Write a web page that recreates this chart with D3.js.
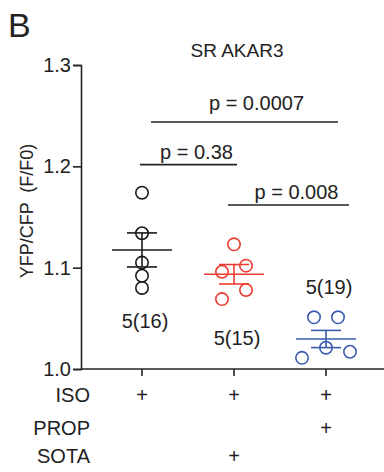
<!DOCTYPE html>
<html>
<head>
<meta charset="utf-8">
<script src="https://cdn.jsdelivr.net/npm/d3@7"></script>
<style>
  body { margin: 0; background: #fff; }
  svg text { font-family: Arial, "Liberation Sans", sans-serif; fill: #222; white-space: pre; }
</style>
</head>
<body>
<div id="chart"></div>
<script>
// data
const groups = ["g1", "g2", "g3"];
const colors = ["#1a1a1a", "#ee3b2f", "#3b5bb0"];
const points = [
  [1.174, 1.134, 1.105, 1.092, 1.080],
  [1.123, 1.102, 1.096, 1.078, 1.069],
  [1.051, 1.051, 1.021, 1.017, 1.011]
];
const jitter = [
  [0, 0, 0, 0, 0],
  [0, 1, -1, 1, -1],
  [-1, 1, 0, 2, -2]
];
const means = [1.1175, 1.0935, 1.0296];
const sems = [0.0168, 0.0096, 0.0085];
const nLabels = ["5(16)", "5(15)", "5(19)"];
const nLabelY = [1.047, 1.031, 1.081];
const yTicks = [1.0, 1.1, 1.2, 1.3];
const treatRows = ["ISO", "PROP", "SOTA"];
const treatMatrix = [
  [1, 1, 1],
  [0, 0, 1],
  [0, 1, 0]
];
const comparisons = [
  { a: 0, b: 2, p: "p = 0.0007", y: 1.2437 },
  { a: 0, b: 1, p: "p = 0.38", y: 1.2017 },
  { a: 1, b: 2, p: "p = 0.008", y: 1.1618 }
];

const W = 384, H = 472;
const svg = d3.select("#chart").append("svg")
  .attr("width", W).attr("height", H);

const y = d3.scaleLinear().domain([1.0, 1.3]).range([369, 65]);
const x = d3.scaleBand().domain(groups).range([96, 372]).padding(0);
const cx = i => x(groups[i]) + x.bandwidth() / 2;
const jstep = 12;

// panel letter & title
svg.append("text").attr("x", 8).attr("y", 37)
  .style("font-size", "34px").text("B");
svg.append("text").attr("x", 237).attr("y", 57).attr("text-anchor", "middle")
  .style("font-size", "19px").text("SR AKAR3");

// axes
const yAxis = svg.append("g").attr("transform", "translate(81,0)")
  .call(d3.axisLeft(y).tickValues(yTicks).tickFormat(d3.format(".1f")).tickSize(8).tickPadding(2));
const xAxis = svg.append("g").attr("transform", "translate(0,369)")
  .call(d3.axisBottom(x).tickSize(7).tickFormat(""));
xAxis.select(".domain").attr("d", "M81,0H384");
[yAxis, xAxis].forEach(g => {
  g.selectAll("path, line").attr("stroke", "#222").attr("stroke-width", 1.6);
});
yAxis.selectAll("text").style("font-size", "20px").attr("fill", "#222");

// axis title
svg.append("text")
  .attr("transform", "translate(33,211) rotate(-90)")
  .attr("text-anchor", "middle")
  .style("font-size", "18px")
  .text("YFP/CFP  (F/F0)");

// mean + sem
groups.forEach((g, i) => {
  const c = cx(i), col = colors[i];
  const gg = svg.append("g").attr("stroke", col).attr("stroke-width", 1.6).attr("fill", "none");
  gg.append("line").attr("x1", c - 30).attr("x2", c + 30)
    .attr("y1", y(means[i])).attr("y2", y(means[i]));
  gg.append("line").attr("x1", c).attr("x2", c)
    .attr("y1", y(means[i] - sems[i])).attr("y2", y(means[i] + sems[i]));
  [means[i] - sems[i], means[i] + sems[i]].forEach(v => {
    gg.append("line").attr("x1", c - 15).attr("x2", c + 15)
      .attr("y1", y(v)).attr("y2", y(v));
  });
  gg.selectAll("circle").data(points[i]).enter().append("circle")
    .attr("cx", (d, j) => c + jitter[i][j] * jstep)
    .attr("cy", d => y(d))
    .attr("r", 6.2);

  svg.append("text").attr("x", c + 3).attr("y", y(nLabelY[i]) + 7)
    .attr("text-anchor", "middle").style("font-size", "20px").text(nLabels[i]);
});

// significance brackets (small hand offsets to match the figure)
const bx1 = [9, -2, -6], bx2 = [12, 3, 23], gap = [12, 6, 6], tdx = [12, 8, 8];
comparisons.forEach((cmp, k) => {
  const x1 = cx(cmp.a) + bx1[k];
  const x2 = cx(cmp.b) + bx2[k];
  svg.append("line").attr("x1", x1).attr("x2", x2)
    .attr("y1", y(cmp.y)).attr("y2", y(cmp.y))
    .attr("stroke", "#222").attr("stroke-width", 1.6);
  svg.append("text").attr("x", (x1 + x2) / 2 + tdx[k]).attr("y", y(cmp.y) - gap[k])
    .attr("text-anchor", "middle").style("font-size", "20px").text(cmp.p);
});

// treatment table
const rowY = [402, 435, 463];
treatRows.forEach((r, ri) => {
  svg.append("text").attr("x", 90).attr("y", rowY[ri]).attr("text-anchor", "end")
    .style("font-size", "20px").text(r);
  treatMatrix[ri].forEach((v, gi) => {
    if (v) svg.append("text").attr("x", cx(gi)).attr("y", rowY[ri])
      .attr("text-anchor", "middle").style("font-size", "20px").text("+");
  });
});
</script>
</body>
</html>
